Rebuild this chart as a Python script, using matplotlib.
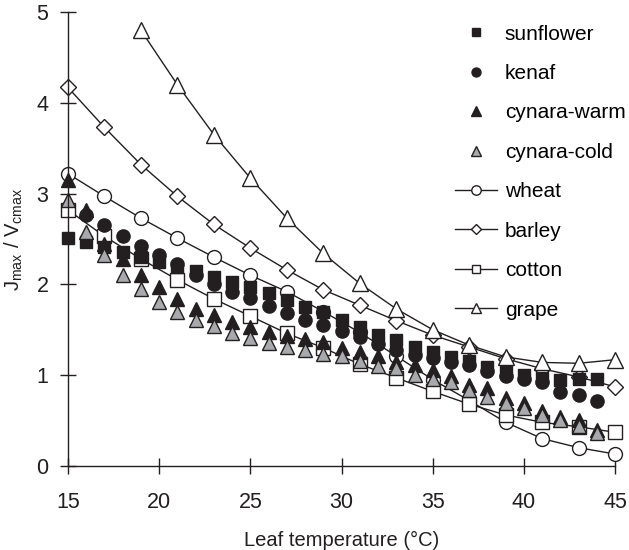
import matplotlib
matplotlib.use("Agg")
import matplotlib.pyplot as plt
import numpy as np

plt.rcParams["font.family"] = ["Liberation Sans", "DejaVu Sans"]
plt.rcParams["mathtext.fontset"] = "custom"
plt.rcParams["mathtext.rm"] = "Liberation Sans"

# leaf temperature grids
t_fill = np.arange(15, 45)          # 15..44, every 1 degC
t_line = np.arange(15, 46, 2)       # 15..45, every 2 degC
t_grape = np.arange(19, 46, 2)      # 19..45
t_kenaf = np.arange(16, 45)         # 16..44

sunflower = [2.51, 2.47, 2.41, 2.36, 2.30, 2.25, 2.19, 2.15, 2.08, 2.03,
             1.97, 1.90, 1.83, 1.75, 1.70, 1.61, 1.53, 1.44, 1.39, 1.31,
             1.26, 1.20, 1.15, 1.09, 1.03, 1.00, 0.97, 0.95, 0.96, 0.96]
kenaf = [2.76, 2.65, 2.53, 2.42, 2.32, 2.22, 2.10, 2.00, 1.92, 1.85,
         1.76, 1.68, 1.61, 1.55, 1.49, 1.42, 1.34, 1.28, 1.22, 1.19,
         1.14, 1.11, 1.05, 0.99, 0.96, 0.92, 0.81, 0.78, 0.72]
cynara_warm = [3.15, 2.82, 2.45, 2.28, 2.10, 1.97, 1.84, 1.73, 1.66, 1.59,
               1.53, 1.48, 1.43, 1.40, 1.36, 1.30, 1.25, 1.21, 1.14, 1.11,
               1.06, 0.99, 0.89, 0.86, 0.75, 0.69, 0.60, 0.54, 0.50, 0.40]
cynara_cold = [2.93, 2.58, 2.32, 2.10, 1.95, 1.81, 1.70, 1.61, 1.54, 1.46,
               1.41, 1.35, 1.31, 1.28, 1.23, 1.21, 1.15, 1.10, 1.08, 1.00,
               0.96, 0.92, 0.84, 0.76, 0.69, 0.64, 0.56, 0.51, 0.44, 0.36]
wheat = [3.22, 2.97, 2.73, 2.51, 2.30, 2.10, 1.92, 1.70,
         1.47, 1.21, 0.95, 0.72, 0.48, 0.30, 0.20, 0.13]
barley = [4.17, 3.73, 3.32, 2.97, 2.66, 2.40, 2.16, 1.94,
          1.77, 1.60, 1.44, 1.31, 1.18, 1.07, 0.98, 0.87]
cotton = [2.82, 2.53, 2.28, 2.05, 1.84, 1.65, 1.46, 1.30,
          1.12, 0.97, 0.82, 0.68, 0.56, 0.48, 0.43, 0.37]
grape = [4.80, 4.20, 3.65, 3.17, 2.73, 2.34, 2.01,
         1.73, 1.50, 1.33, 1.20, 1.14, 1.13, 1.17]

ink = "#231f20"
grey = "#a7a9ac"

fig = plt.figure(figsize=(6.29, 5.5), dpi=100)
ax = fig.add_axes([0.108, 0.153, 0.870, 0.825])

kw = dict(clip_on=False, markeredgecolor=ink, markeredgewidth=1.0)
ax.plot(t_line, wheat, "-o", color=ink, lw=1.0, ms=10, mfc="white", label="wheat", **kw)
ax.plot(t_line, barley, "-D", color=ink, lw=1.0, ms=8, mfc="white", label="barley", **kw)
ax.plot(t_line, cotton, "-s", color=ink, lw=1.0, ms=9.5, mfc="white", label="cotton", **kw)
ax.plot(t_grape, grape, "-^", color=ink, lw=1.0, ms=11, mfc="white", label="grape", **kw)
ax.plot(t_fill, sunflower, "s", color=ink, ms=9, mfc=ink, label="sunflower", **kw)
ax.plot(t_kenaf, kenaf, "o", color=ink, ms=9.5, mfc=ink, label="kenaf", **kw)
ax.plot(t_fill, cynara_warm, "^", color=ink, ms=10.5, mfc=ink, label="cynara-warm", **kw)
ax.plot(t_fill, cynara_cold, "^", color=ink, ms=10.5, mfc=grey, label="cynara-cold", **kw)

ax.set_xlim(15, 45)
ax.set_ylim(0, 5)
ax.set_xticks(range(15, 46, 5))
ax.set_yticks(range(0, 6))
for s in ("top", "right"):
    ax.spines[s].set_visible(False)
for s in ("left", "bottom"):
    ax.spines[s].set_color(ink)
    ax.spines[s].set_linewidth(1.0)
ax.tick_params(direction="inout", length=12, width=1.0, color=ink,
               labelsize=15.5, labelcolor=ink)
ax.tick_params(axis="x", pad=13)
ax.tick_params(axis="y", pad=8)
ax.set_xlabel("Leaf temperature (°C)", fontsize=14.5, color=ink, labelpad=13)
ax.set_ylabel(r"J$_{\mathrm{max}}$ / V$_{\mathrm{cmax}}$", fontsize=14.5, color=ink, labelpad=8)

h, l = ax.get_legend_handles_labels()
order = [4, 5, 6, 7, 0, 1, 2, 3]
ax.legend([h[i] for i in order], [l[i] for i in order], loc="upper right",
          bbox_to_anchor=(1.042, 1.0), frameon=False, fontsize=15,
          markerscale=0.68, handlelength=2.0, handletextpad=0.4,
          labelspacing=0.98, borderaxespad=0.2)

fig.savefig("out.png", dpi=100)
